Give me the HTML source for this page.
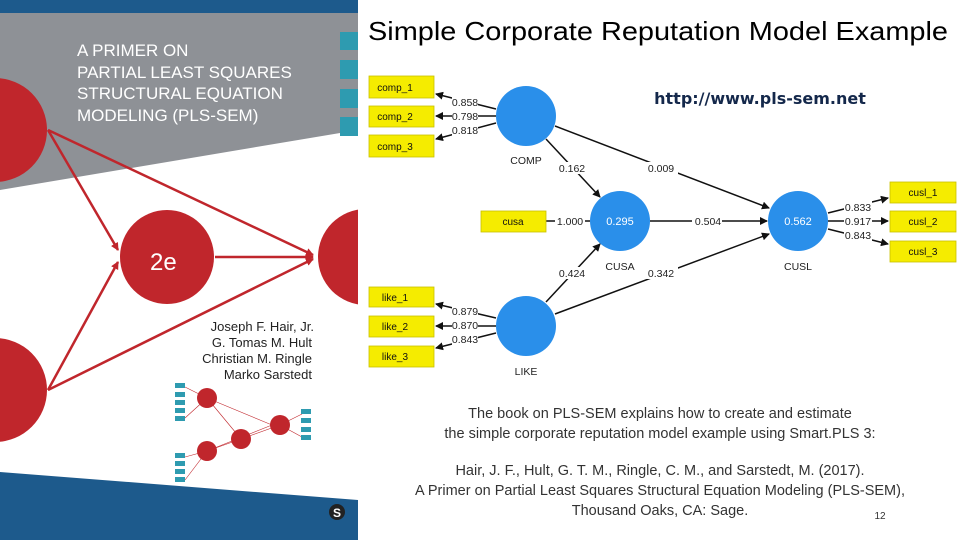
<!DOCTYPE html>
<html><head><meta charset="utf-8"><style>
body{margin:0;width:960px;height:540px;overflow:hidden;background:#fff}
svg{display:block}
</style></head><body>
<svg width="960" height="540" viewBox="0 0 960 540" xmlns="http://www.w3.org/2000/svg" font-family="Liberation Sans, sans-serif">
<defs>
<marker id="a" markerWidth="8" markerHeight="8" refX="7" refY="4" orient="auto" markerUnits="userSpaceOnUse"><path d="M0,0 L8,4 L0,8 Z" fill="#111"/></marker>
<marker id="r" markerWidth="8" markerHeight="8" refX="7" refY="4" orient="auto" markerUnits="userSpaceOnUse"><path d="M0,0 L8,4 L0,8 Z" fill="#c0262c"/></marker>
<clipPath id="cv"><rect x="0" y="0" width="358" height="540"/></clipPath>
</defs>
<g clip-path="url(#cv)">
<rect x="0" y="0" width="358" height="540" fill="#fff"/>
<polygon points="0,13 358,13 358,130 0,190" fill="#8e9196"/>
<rect x="0" y="0" width="358" height="13" fill="#1d5a8c"/>
<polygon points="0,472 358,500 358,540 0,540" fill="#1d5a8c"/>
<g fill="#2e9bb0"><rect x="340" y="32" width="20" height="18"/><rect x="340" y="60" width="20" height="19"/><rect x="340" y="89" width="20" height="19"/><rect x="340" y="117" width="20" height="19"/></g>
<g stroke="#c0262c" stroke-width="2.5" fill="none">
<line x1="48" y1="130" x2="118" y2="250" marker-end="url(#r)"/>
<line x1="48" y1="130" x2="313" y2="255" marker-end="url(#r)"/>
<line x1="48" y1="390" x2="118" y2="262" marker-end="url(#r)"/>
<line x1="48" y1="390" x2="313" y2="259" marker-end="url(#r)"/>
<line x1="215" y1="257" x2="313" y2="257" marker-end="url(#r)"/>
</g>
<g fill="#c0262c">
<circle cx="-5" cy="130" r="52"/><circle cx="167" cy="257" r="47"/><circle cx="366" cy="257" r="48"/><circle cx="-5" cy="390" r="52"/>
</g>
<text x="150" y="270" fill="#fff" font-size="24">2e</text>
<g fill="#fff" font-size="17"><text x="77" y="56">A PRIMER ON</text><text x="77" y="78">PARTIAL LEAST SQUARES</text><text x="77" y="99">STRUCTURAL EQUATION</text><text x="77" y="121">MODELING (PLS-SEM)</text></g>
<g fill="#222" font-size="13" text-anchor="end"><text x="314" y="331">Joseph F. Hair, Jr.</text><text x="312" y="347">G. Tomas M. Hult</text><text x="312" y="363">Christian M. Ringle</text><text x="312" y="379">Marko Sarstedt</text></g>
<g stroke="#c0262c" stroke-width="0.6"><line x1="185" y1="387" x2="207" y2="398"/><line x1="185" y1="418" x2="207" y2="398"/><line x1="185" y1="457" x2="207" y2="451"/><line x1="185" y1="480" x2="207" y2="451"/><line x1="207" y1="398" x2="272" y2="425"/><line x1="207" y1="451" x2="272" y2="425"/><line x1="207" y1="398" x2="241" y2="439"/><line x1="207" y1="451" x2="241" y2="439"/><line x1="241" y1="439" x2="280" y2="425"/><line x1="280" y1="425" x2="302" y2="414"/><line x1="280" y1="425" x2="302" y2="437"/></g>
<g fill="#2e9bb0"><rect x="175" y="383" width="10" height="5"/><rect x="175" y="392" width="10" height="5"/><rect x="175" y="400" width="10" height="5"/><rect x="175" y="408" width="10" height="5"/><rect x="175" y="416" width="10" height="5"/><rect x="175" y="453" width="10" height="5"/><rect x="175" y="461" width="10" height="5"/><rect x="175" y="469" width="10" height="5"/><rect x="175" y="477" width="10" height="5"/><rect x="301" y="409" width="10" height="5"/><rect x="301" y="418" width="10" height="5"/><rect x="301" y="427" width="10" height="5"/><rect x="301" y="435" width="10" height="5"/></g>
<g fill="#c0262c"><circle cx="207" cy="398" r="10"/><circle cx="207" cy="451" r="10"/><circle cx="241" cy="439" r="10"/><circle cx="280" cy="425" r="10"/></g>
<circle cx="337" cy="512" r="8" fill="#222"/><text x="337" y="517" fill="#fff" font-size="12" font-weight="bold" text-anchor="middle">S</text>
</g>
<text x="368" y="40" font-size="26" fill="#000" textLength="580" lengthAdjust="spacingAndGlyphs">Simple Corporate Reputation Model Example</text>
<text x="760" y="104" font-size="16" font-weight="bold" fill="#14284b" text-anchor="middle" font-family="DejaVu Sans, sans-serif">http://www.pls-sem.net</text>
<g stroke="#111" stroke-width="1.5" fill="none">
<line x1="496" y1="109" x2="436" y2="94" marker-end="url(#a)"/>
<line x1="496" y1="116" x2="436" y2="116" marker-end="url(#a)"/>
<line x1="496" y1="123" x2="436" y2="139" marker-end="url(#a)"/>
<line x1="496" y1="318" x2="436" y2="304" marker-end="url(#a)"/>
<line x1="496" y1="326" x2="436" y2="326" marker-end="url(#a)"/>
<line x1="496" y1="333" x2="436" y2="348" marker-end="url(#a)"/>
<line x1="546" y1="221" x2="590" y2="221"/>
<line x1="546" y1="139" x2="600" y2="197" marker-end="url(#a)"/>
<line x1="555" y1="126" x2="769" y2="208" marker-end="url(#a)"/>
<line x1="546" y1="302" x2="600" y2="244" marker-end="url(#a)"/>
<line x1="555" y1="314" x2="769" y2="234" marker-end="url(#a)"/>
<line x1="650" y1="221" x2="767" y2="221" marker-end="url(#a)"/>
<line x1="828" y1="213" x2="888" y2="198" marker-end="url(#a)"/>
<line x1="828" y1="221" x2="888" y2="221" marker-end="url(#a)"/>
<line x1="828" y1="229" x2="888" y2="244" marker-end="url(#a)"/>
</g>
<g fill="#fff">
<rect x="452" y="96" width="26" height="12"/><rect x="452" y="110" width="26" height="12"/><rect x="452" y="124" width="26" height="12"/>
<rect x="452" y="305" width="26" height="12"/><rect x="452" y="319" width="26" height="12"/><rect x="452" y="333" width="26" height="12"/>
<rect x="555" y="162" width="32" height="12"/><rect x="644" y="162" width="34" height="12"/><rect x="555" y="267" width="32" height="12"/><rect x="644" y="267" width="34" height="12"/>
<rect x="555" y="215" width="30" height="12"/><rect x="692" y="215" width="30" height="12"/>
<rect x="844" y="201" width="28" height="12"/><rect x="844" y="215" width="28" height="12"/><rect x="844" y="229" width="28" height="12"/>
</g>
<g fill="#222" font-size="10.5" text-anchor="middle">
<text x="465" y="106">0.858</text><text x="465" y="120">0.798</text><text x="465" y="134">0.818</text>
<text x="465" y="315">0.879</text><text x="465" y="329">0.870</text><text x="465" y="343">0.843</text>
<text x="572" y="172">0.162</text><text x="661" y="172">0.009</text><text x="572" y="277">0.424</text><text x="661" y="277">0.342</text>
<text x="570" y="225">1.000</text><text x="708" y="225">0.504</text>
<text x="858" y="211">0.833</text><text x="858" y="225">0.917</text><text x="858" y="239">0.843</text>
<text x="526" y="164">COMP</text><text x="620" y="270">CUSA</text><text x="798" y="270">CUSL</text><text x="526" y="375">LIKE</text>
</g>
<g fill="#2a8fea"><circle cx="526" cy="116" r="30"/><circle cx="620" cy="221" r="30"/><circle cx="798" cy="221" r="30"/><circle cx="526" cy="326" r="30"/></g>
<g fill="#fff" font-size="11" text-anchor="middle"><text x="620" y="225">0.295</text><text x="798" y="225">0.562</text></g>
<g fill="#f5ec00" stroke="#c9c000" stroke-width="0.8">
<rect x="369" y="76" width="65" height="22"/><rect x="369" y="106" width="65" height="21"/><rect x="369" y="135" width="65" height="22"/>
<rect x="369" y="287" width="65" height="20"/><rect x="369" y="316" width="65" height="21"/><rect x="369" y="346" width="65" height="21"/>
<rect x="481" y="211" width="65" height="21"/>
<rect x="890" y="182" width="66" height="21"/><rect x="890" y="211" width="66" height="21"/><rect x="890" y="241" width="66" height="21"/>
</g>
<g fill="#111" font-size="10" text-anchor="middle">
<text x="395" y="91">comp_1</text><text x="395" y="120">comp_2</text><text x="395" y="150">comp_3</text>
<text x="395" y="301">like_1</text><text x="395" y="330">like_2</text><text x="395" y="360">like_3</text>
<text x="513" y="225">cusa</text>
<text x="923" y="196">cusl_1</text><text x="923" y="225">cusl_2</text><text x="923" y="255">cusl_3</text>
</g>
<g fill="#333" font-size="14.5" text-anchor="middle">
<text x="660" y="418">The book on PLS-SEM explains how to create and estimate</text>
<text x="660" y="438">the simple corporate reputation model example using Smart.PLS 3:</text>
<text x="660" y="475">Hair, J. F., Hult, G. T. M., Ringle, C. M., and Sarstedt, M. (2017).</text>
<text x="660" y="495">A Primer on Partial Least Squares Structural Equation Modeling (PLS-SEM),</text>
<text x="660" y="515">Thousand Oaks, CA: Sage.</text>
</g>
<text x="880" y="519" font-size="10" fill="#333" text-anchor="middle">12</text>
</svg>
</body></html>
